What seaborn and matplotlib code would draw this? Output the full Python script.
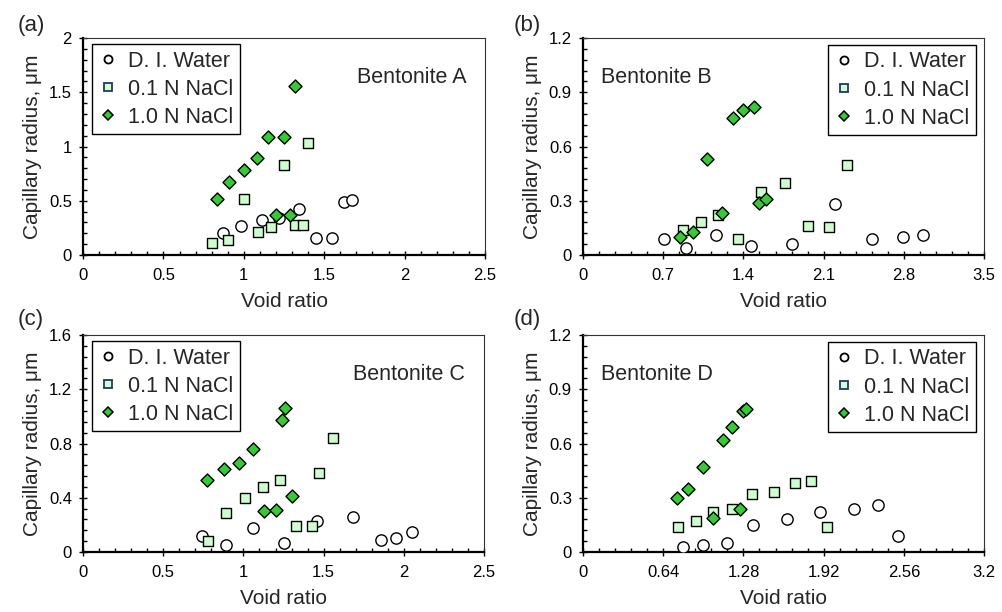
import seaborn as sns
import matplotlib.pyplot as plt
from matplotlib.lines import Line2D
from matplotlib.ticker import AutoMinorLocator, FuncFormatter

# void ratio (e) and capillary radius (r, um)
a_water_e = [0.87, 0.98, 1.11, 1.22, 1.34, 1.45, 1.55, 1.62, 1.67]
a_water_r = [0.20, 0.27, 0.32, 0.34, 0.42, 0.16, 0.16, 0.49, 0.51]
a_salt01_e = [0.80, 0.90, 1.00, 1.09, 1.17, 1.25, 1.32, 1.37, 1.40]
a_salt01_r = [0.11, 0.14, 0.52, 0.21, 0.26, 0.83, 0.28, 0.28, 1.03]
a_salt1_e = [0.83, 0.91, 1.00, 1.08, 1.15, 1.25, 1.32, 1.20, 1.29]
a_salt1_r = [0.52, 0.67, 0.78, 0.89, 1.09, 1.09, 1.56, 0.37, 0.37]

b_water_e = [0.71, 0.90, 1.16, 1.47, 1.82, 2.20, 2.52, 2.79, 2.97]
b_water_r = [0.09, 0.04, 0.11, 0.05, 0.06, 0.28, 0.09, 0.10, 0.11]
b_salt01_e = [0.87, 1.03, 1.18, 1.35, 1.55, 1.76, 1.96, 2.15, 2.30]
b_salt01_r = [0.14, 0.18, 0.22, 0.09, 0.35, 0.40, 0.16, 0.155, 0.50]
b_salt1_e = [0.85, 0.96, 1.08, 1.21, 1.31, 1.40, 1.49, 1.54, 1.60]
b_salt1_r = [0.10, 0.13, 0.53, 0.23, 0.76, 0.80, 0.82, 0.29, 0.31]

c_water_e = [0.74, 0.89, 1.06, 1.25, 1.46, 1.68, 1.86, 1.95, 2.05]
c_water_r = [0.12, 0.05, 0.18, 0.07, 0.23, 0.26, 0.09, 0.10, 0.15]
c_salt01_e = [0.78, 0.89, 1.01, 1.12, 1.23, 1.33, 1.43, 1.47, 1.56]
c_salt01_r = [0.08, 0.29, 0.40, 0.48, 0.53, 0.19, 0.19, 0.58, 0.84]
c_salt1_e = [0.77, 0.88, 0.97, 1.06, 1.24, 1.26, 1.13, 1.20, 1.30]
c_salt1_r = [0.53, 0.61, 0.66, 0.76, 0.97, 1.06, 0.30, 0.31, 0.41]

d_water_e = [0.80, 0.96, 1.15, 1.36, 1.63, 1.89, 2.16, 2.35, 2.51]
d_water_r = [0.03, 0.04, 0.05, 0.15, 0.18, 0.22, 0.24, 0.26, 0.09]
d_salt01_e = [0.76, 0.90, 1.04, 1.19, 1.35, 1.52, 1.69, 1.82, 1.95]
d_salt01_r = [0.14, 0.17, 0.22, 0.24, 0.32, 0.33, 0.38, 0.39, 0.14]
d_salt1_e = [0.75, 0.84, 0.96, 1.04, 1.12, 1.19, 1.25, 1.28, 1.30]
d_salt1_r = [0.30, 0.35, 0.47, 0.19, 0.62, 0.69, 0.24, 0.78, 0.79]

a_xticks = [0, 0.5, 1, 1.5, 2, 2.5]
a_yticks = [0, 0.5, 1, 1.5, 2]
b_xticks = [0, 0.7, 1.4, 2.1, 2.8, 3.5]
b_yticks = [0, 0.3, 0.6, 0.9, 1.2]
c_xticks = [0, 0.5, 1, 1.5, 2, 2.5]
c_yticks = [0, 0.4, 0.8, 1.2, 1.6]
d_xticks = [0, 0.64, 1.28, 1.92, 2.56, 3.2]
d_yticks = [0, 0.3, 0.6, 0.9, 1.2]

series_names = ["D. I. Water", "0.1 N NaCl", "1.0 N NaCl"]

sns.set_theme(style="ticks")
plt.rcParams['font.family'] = ['Liberation Sans', 'DejaVu Sans']

fig = plt.figure(figsize=(10.03, 6.12), dpi=100)

panels = [
    ("(a)", "Bentonite A", [0.0828, 0.5833, 0.4008, 0.3546], a_xticks, a_yticks,
     [(a_water_e, a_water_r), (a_salt01_e, a_salt01_r), (a_salt1_e, a_salt1_r)], 'left'),
    ("(b)", "Bentonite B", [0.5813, 0.5833, 0.3998, 0.3546], b_xticks, b_yticks,
     [(b_water_e, b_water_r), (b_salt01_e, b_salt01_r), (b_salt1_e, b_salt1_r)], 'right'),
    ("(c)", "Bentonite C", [0.0828, 0.0980, 0.3998, 0.3546], c_xticks, c_yticks,
     [(c_water_e, c_water_r), (c_salt01_e, c_salt01_r), (c_salt1_e, c_salt1_r)], 'left'),
    ("(d)", "Bentonite D", [0.5813, 0.0980, 0.3998, 0.3546], d_xticks, d_yticks,
     [(d_water_e, d_water_r), (d_salt01_e, d_salt01_r), (d_salt1_e, d_salt1_r)], 'right'),
]

styles = [
    dict(marker='o', s=66, color='white', edgecolor='black', linewidth=1.0),
    dict(marker='s', s=62, color='#ccffcc', edgecolor='black', linewidth=1.0),
    dict(marker='D', s=44, color='#33cc33', edgecolor='black', linewidth=1.0),
]

legend_handles = [
    Line2D([], [], ls='none', marker='o', ms=5.8, mfc='white', mec='black', mew=1.3),
    Line2D([], [], ls='none', marker='s', ms=5.8, mfc='#ccffcc', mec='#1f3864', mew=1.3),
    Line2D([], [], ls='none', marker='D', ms=4.8, mfc='#33cc33', mec='black', mew=1.1),
]

fmt = FuncFormatter(lambda v, p: f'{v:g}')

for tag, name, rect, xticks, yticks, data, legend_side in panels:
    ax = fig.add_axes(rect)
    for (e, r), st in zip(data, styles):
        sns.scatterplot(x=e, y=r, ax=ax, legend=False, zorder=3, **st)

    ax.set_xlim(xticks[0], xticks[-1])
    ax.set_ylim(yticks[0], yticks[-1])
    ax.set_xticks(xticks)
    ax.set_yticks(yticks)
    ax.xaxis.set_major_formatter(fmt)
    ax.yaxis.set_major_formatter(fmt)
    ax.xaxis.set_minor_locator(AutoMinorLocator(5))
    ax.yaxis.set_minor_locator(AutoMinorLocator(5))
    ax.tick_params(which='major', direction='inout', length=6, width=1.0,
                   labelsize=12, colors='black', pad=5)
    ax.tick_params(which='minor', direction='in', length=3, width=1.0, colors='black')
    ax.tick_params(axis='x', which='major', pad=6)

    for side in ['left', 'bottom']:
        ax.spines[side].set_linewidth(1.6)
        ax.spines[side].set_color('black')
    for side in ['top', 'right']:
        ax.spines[side].set_visible(True)
        ax.spines[side].set_linewidth(0.8)
        ax.spines[side].set_color('#333333')

    ax.set_xlabel("Void ratio", fontsize=15, labelpad=7)
    ax.set_ylabel("Capillary radius, \u03bcm", fontsize=15, labelpad=5)

    if legend_side == 'left':
        ax.legend(legend_handles, series_names, loc='upper left', bbox_to_anchor=(0.022, 0.972),
                  borderaxespad=0, fontsize=15.5, frameon=True, fancybox=False, framealpha=1,
                  edgecolor='black', handlelength=0.9, handletextpad=0.5, labelspacing=0.33,
                  borderpad=0.3)
        ax.text(0.953, 0.82, name, transform=ax.transAxes, ha='right', va='center', fontsize=15.5)
    else:
        ax.legend(legend_handles, series_names, loc='upper right', bbox_to_anchor=(0.980, 0.968),
                  borderaxespad=0, fontsize=15.5, frameon=True, fancybox=False, framealpha=1,
                  edgecolor='black', handlelength=0.9, handletextpad=0.5, labelspacing=0.33,
                  borderpad=0.3)
        ax.text(0.045, 0.82, name, transform=ax.transAxes, ha='left', va='center', fontsize=15.5)
    ax.get_legend().get_frame().set_linewidth(1.0)

    fx = 0.031 if rect[0] < 0.5 else 0.526
    fy = 0.958 if rect[1] > 0.5 else 0.478
    fig.text(fx, fy, tag, ha='center', va='center', fontsize=16)

fig.savefig("out.png", dpi=100)
